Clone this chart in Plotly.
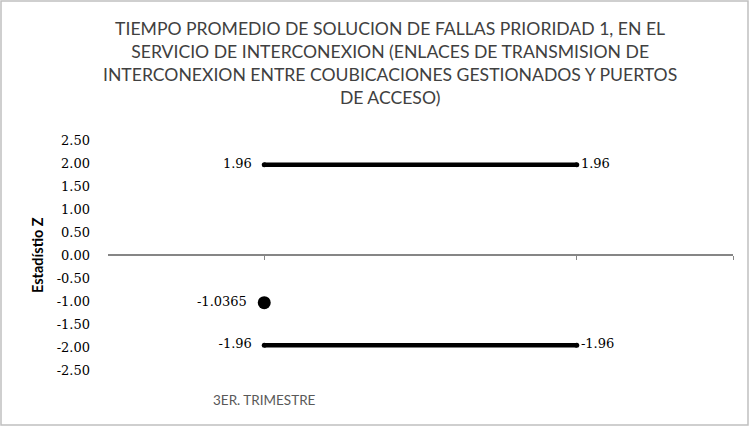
import plotly.graph_objects as go

# data
categories = ["3ER. TRIMESTRE"]
x_pos = [1, 3]
upper_limit = [1.96, 1.96]
lower_limit = [-1.96, -1.96]
z_x = [1]
z_value = [-1.0365]
y_ticks = [2.5, 2.0, 1.5, 1.0, 0.5, 0.0, -0.5, -1.0, -1.5, -2.0, -2.5]
y_tick_text = ["2.50", "2.00", "1.50", "1.00", "0.50", "0.00",
               "-0.50", "-1.00", "-1.50", "-2.00", "-2.50"]

title = ("TIEMPO PROMEDIO DE SOLUCION DE FALLAS PRIORIDAD 1, EN EL<br>"
         "SERVICIO DE INTERCONEXION (ENLACES DE TRANSMISION DE<br>"
         "INTERCONEXION ENTRE COUBICACIONES GESTIONADOS Y PUERTOS<br>"
         "DE ACCESO)")

serif = dict(family="DejaVu Serif", size=13, color="#000000")
nbsp = "\u00a0\u00a0"

fig = go.Figure()

for vals in (upper_limit, lower_limit):
    fig.add_trace(go.Scatter(
        x=x_pos, y=vals, mode="lines+markers+text",
        line=dict(color="#000000", width=4.5),
        marker=dict(color="#000000", size=5),
        text=[f"{vals[0]:.2f}{nbsp}", f"{vals[1]:.2f}"],
        textposition=["middle left", "middle right"],
        textfont=serif, cliponaxis=False, hoverinfo="skip"))

fig.add_trace(go.Scatter(
    x=z_x, y=z_value, mode="markers+text",
    marker=dict(color="#000000", size=13),
    text=[f"{v:g}{nbsp}" for v in z_value],
    textposition="middle left", textfont=serif, cliponaxis=False))

fig.update_layout(
    width=752, height=428,
    margin=dict(l=108, r=19, t=140, b=58),
    paper_bgcolor="white", plot_bgcolor="white",
    showlegend=False,
    xaxis=dict(range=[0, 4], anchor="free", position=0.5,
               showline=True, linecolor="#868686", linewidth=1.5,
               ticks="outside", ticklen=4, tickcolor="#868686",
               tickvals=[1, 3, 4], showticklabels=False,
               showgrid=False, zeroline=False),
    yaxis=dict(range=[-2.5, 2.5], tickvals=y_ticks, ticktext=y_tick_text,
               tickfont=serif, ticklabelstandoff=17,
               showline=False, showgrid=False, zeroline=False),
    shapes=[dict(type="rect", xref="paper", yref="paper",
                 x0=(1 - 108) / 625, x1=(748 - 108) / 625,
                 y0=(370 - 425) / 230, y1=(370 - 1) / 230,
                 line=dict(color="#c0c0c0", width=1.5))],
    annotations=[
        dict(text=title, x=(390 - 108) / 625, y=(370 - 16) / 230,
             xref="paper", yref="paper", xanchor="center", yanchor="top",
             showarrow=False, align="center",
             font=dict(family="Lato", size=17.6, color="#404040")),
        dict(text=categories[0], x=1, y=(370 - 400) / 230, xref="x", yref="paper",
             xanchor="center", yanchor="middle", showarrow=False,
             font=dict(family="Lato", size=13.5, color="#595959")),
        dict(text="<b>Estadístio Z</b>", x=(37 - 108) / 625, y=0.5,
             xref="paper", yref="paper", xanchor="center", yanchor="middle",
             textangle=-90, showarrow=False,
             font=dict(family="Lato", size=14.5, color="#000000")),
    ],
)

fig.write_html("out.html", config={"displayModeBar": False},
               post_script="document.body.style.margin='0';")
